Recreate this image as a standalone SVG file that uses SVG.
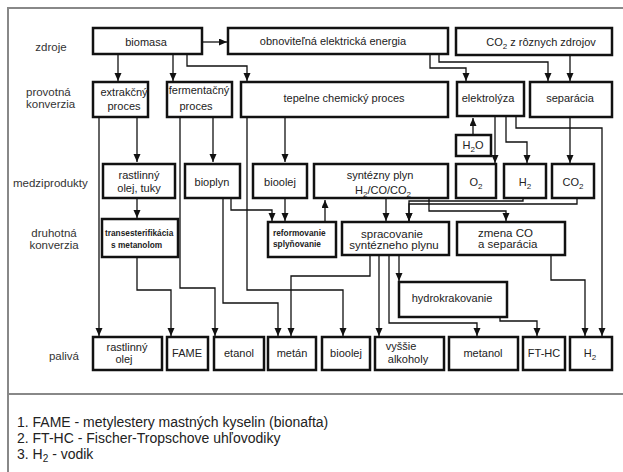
<svg xmlns="http://www.w3.org/2000/svg" width="623" height="472" viewBox="0 0 623 472">
<style>
.box{fill:#fff;stroke:#111;stroke-width:2.5}
.c{fill:none;stroke:#111;stroke-width:1.3;marker-end:url(#a)}
.t{font-family:"Liberation Sans",Arial,sans-serif;font-size:11px;fill:#222;text-anchor:middle}
.s{text-anchor:start}
.m{font-size:11.5px}
.b{font-weight:bold;font-size:8.3px;text-anchor:start}
.lab{font-family:"Liberation Sans",Arial,sans-serif;font-size:11.5px;fill:#333}
.sub{font-size:8px}
.leg{font-family:"Liberation Sans",Arial,sans-serif;font-size:14px;fill:#222}
.fr{stroke:#888;stroke-width:2;fill:none}
</style>
<defs>
<marker id="a" markerUnits="userSpaceOnUse" markerWidth="8" markerHeight="8" refX="8" refY="3.5" orient="auto">
<path d="M0,0 L8,3.5 L0,7 z" fill="#111"/>
</marker>
</defs>
<rect width="623" height="472" fill="#fff"/>
<g id="frame">
<path class="fr" d="M623,8 H8 V472 M8,394 H623"/>
</g>
<g id="row-labels">
<text class="lab" x="51" y="51" text-anchor="middle">zdroje</text>
<text class="lab" x="26" y="96">provotná</text>
<text class="lab" x="26" y="108">konverzia</text>
<text class="lab" x="13" y="187">medziprodukty</text>
<text class="lab" x="54" y="237" text-anchor="middle">druhotná</text>
<text class="lab" x="54" y="249" text-anchor="middle">konverzia</text>
<text class="lab" x="64" y="360" text-anchor="middle">palivá</text>
</g>
<g id="connectors">
<path class="c" d="M202,42 H227"/>
<path class="c" d="M118,55 V81"/>
<path class="c" d="M173,55 V81"/>
<path class="c" d="M187,55 V66 H247 V81"/>
<path class="c" d="M430,55 V68 H466 V81"/>
<path class="c" d="M439,55 V62 H548 V81"/>
<path class="c" d="M570,56 V81"/>
<path class="c" d="M137,118 V162"/>
<path class="c" d="M99,118 V336"/>
<path class="c" d="M213,118 V162"/>
<path class="c" d="M180,118 V288 H215 V336"/>
<path class="c" d="M285,118 V162"/>
<path class="c" d="M247,118 V290 H343 V336"/>
<path class="c" d="M495,117 V163"/>
<path class="c" d="M506,117 V142 H527 V163"/>
<path class="c" d="M516,117 V128 H602 V336"/>
<path class="c" d="M473,134 V118"/>
<path class="c" d="M570,118 V163"/>
<path class="c" d="M137,199 V218"/>
<path class="c" d="M137,258 V290 H171 V336"/>
<path class="c" d="M231,199 V210 H272 V221"/>
<path class="c" d="M223,199 V303 H278 V336"/>
<path class="c" d="M285,199 V221"/>
<path class="c" d="M325,221 V200"/>
<path class="c" d="M386,199 V221"/>
<path class="c" d="M429,199 V211 H506 V221"/>
<path class="c" d="M523,199 V201 H409 V221"/>
<path class="c" d="M577,199 V204 H409 V221"/>
<path class="c" d="M370,256 V276 H291 V336"/>
<path class="c" d="M379,256 V336"/>
<path class="c" d="M389,256 V323 H477 V336"/>
<path class="c" d="M399,256 V281"/>
<path class="c" d="M500,318 V321 H537 V336"/>
<path class="c" d="M551,256 V280 H585 V336"/>
</g>
<g id="biomasa"><rect class="box" x="93" y="28" width="109" height="26"/><text class="t" x="146" y="46">biomasa</text></g>
<g id="obnovitelna"><rect class="box" x="228" y="28" width="220" height="26"/><text class="t" x="333" y="45">obnoviteľná elektrická energia</text></g>
<g id="co2-zdroje"><rect class="box" x="456" y="28" width="156" height="27"/><text class="t" x="541" y="46">CO<tspan class="sub" dy="3">2</tspan><tspan dy="-3"> z rôznych zdrojov</tspan></text></g>
<g id="extrakcny"><rect class="box" x="93" y="82" width="55" height="35"/><text class="t" x="124" y="96">extrakčný</text><text class="t" x="124" y="110">proces</text></g>
<g id="fermentacny"><rect class="box" x="167" y="82" width="65" height="35"/><text class="t" x="199" y="94">fermentačný</text><text class="t" x="196" y="110">proces</text></g>
<g id="tepelne"><rect class="box" x="241" y="82" width="207" height="35"/><text class="t" x="344" y="102">tepelne chemický proces</text></g>
<g id="elektrolyza"><rect class="box" x="457" y="82" width="67" height="34"/><text class="t" x="488" y="102">elektrolýza</text></g>
<g id="separacia"><rect class="box" x="530" y="82" width="82" height="35"/><text class="t" x="570" y="102">separácia</text></g>
<g id="h2o"><rect class="box" x="456" y="135" width="35" height="21"/><text class="t" x="473" y="149">H<tspan class="sub" dy="3">2</tspan><tspan dy="-3">O</tspan></text></g>
<g id="rastlinny-olej-tuky"><rect class="box" x="103" y="164" width="72" height="34"/><text class="t" x="139" y="179">rastlinný</text><text class="t" x="139" y="192">olej, tuky</text></g>
<g id="bioplyn"><rect class="box" x="185" y="164" width="55" height="34"/><text class="t" x="212" y="186">bioplyn</text></g>
<g id="bioolej-m"><rect class="box" x="253" y="164" width="54" height="34"/><text class="t" x="280" y="186">bioolej</text></g>
<g id="synteznyplyn"><rect class="box" x="314" y="164" width="134" height="34"/><text class="t" x="380" y="179">syntézny plyn</text><text class="t" x="383" y="194">H<tspan class="sub" dy="3">2</tspan><tspan dy="-3">/CO/CO</tspan><tspan class="sub" dy="3">2</tspan></text></g>
<g id="o2"><rect class="box" x="456" y="164" width="40" height="34"/><text class="t" x="476" y="186">O<tspan class="sub" dy="3">2</tspan></text></g>
<g id="h2-m"><rect class="box" x="504" y="164" width="42" height="34"/><text class="t" x="525" y="186">H<tspan class="sub" dy="3">2</tspan></text></g>
<g id="co2-m"><rect class="box" x="552" y="164" width="42" height="34"/><text class="t" x="573" y="186">CO<tspan class="sub" dy="3">2</tspan></text></g>
<g id="transesterifikacia"><rect class="box" x="102" y="219" width="76" height="38"/><text class="t b" x="105" y="236">transesterifikácia</text><text class="t b" x="111" y="248">s metanolom</text></g>
<g id="reformovanie"><rect class="box" x="268" y="222" width="68" height="35"/><text class="t b" x="273" y="236">reformovanie</text><text class="t b" x="273" y="247">splyňovanie</text></g>
<g id="spracovanie"><rect class="box" x="342" y="222" width="107" height="33"/><text class="t m" x="392" y="238">spracovanie</text><text class="t m" x="394" y="249">syntézneho plynu</text></g>
<g id="zmena-co"><rect class="box" x="457" y="222" width="108" height="33"/><text class="t m s" x="478" y="237">zmena CO</text><text class="t m s" x="478" y="248">a separácia</text></g>
<g id="hydrokrakovanie"><rect class="box" x="399" y="282" width="108" height="35"/><text class="t" x="452" y="302">hydrokrakovanie</text></g>
<g id="f-rastlinny-olej"><rect class="box" x="93" y="337" width="69" height="33"/><text class="t" x="127" y="351">rastlinný</text><text class="t" x="124" y="363">olej</text></g>
<g id="f-fame"><rect class="box" x="167" y="337" width="41" height="33"/><text class="t" x="187" y="357">FAME</text></g>
<g id="f-etanol"><rect class="box" x="214" y="337" width="50" height="33"/><text class="t" x="239" y="357">etanol</text></g>
<g id="f-metan"><rect class="box" x="268" y="337" width="48" height="33"/><text class="t" x="292" y="357">metán</text></g>
<g id="f-bioolej"><rect class="box" x="322" y="337" width="48" height="33"/><text class="t" x="346" y="357">bioolej</text></g>
<g id="f-vyssie-alkoholy"><rect class="box" x="375" y="337" width="69" height="33"/><text class="t" x="401" y="350">vyššie</text><text class="t" x="408" y="363">alkoholy</text></g>
<g id="f-metanol"><rect class="box" x="449" y="337" width="69" height="33"/><text class="t" x="483" y="357">metanol</text></g>
<g id="f-fthc"><rect class="box" x="523" y="337" width="42" height="33"/><text class="t" x="544" y="357">FT-HC</text></g>
<g id="f-h2"><rect class="box" x="570" y="337" width="42" height="33"/><text class="t" x="590" y="357">H<tspan class="sub" dy="3">2</tspan></text></g>
<g id="legend">
<text class="leg" x="17" y="427">1. FAME - metylestery mastných kyselin (bionafta)</text>
<text class="leg" x="17" y="443">2. FT-HC - Fischer-Tropschove uhľovodiky</text>
<text class="leg" x="17" y="459">3. H<tspan font-size="10px" dy="3">2</tspan><tspan dy="-3"> - vodik</tspan></text>
</g>
</svg>
